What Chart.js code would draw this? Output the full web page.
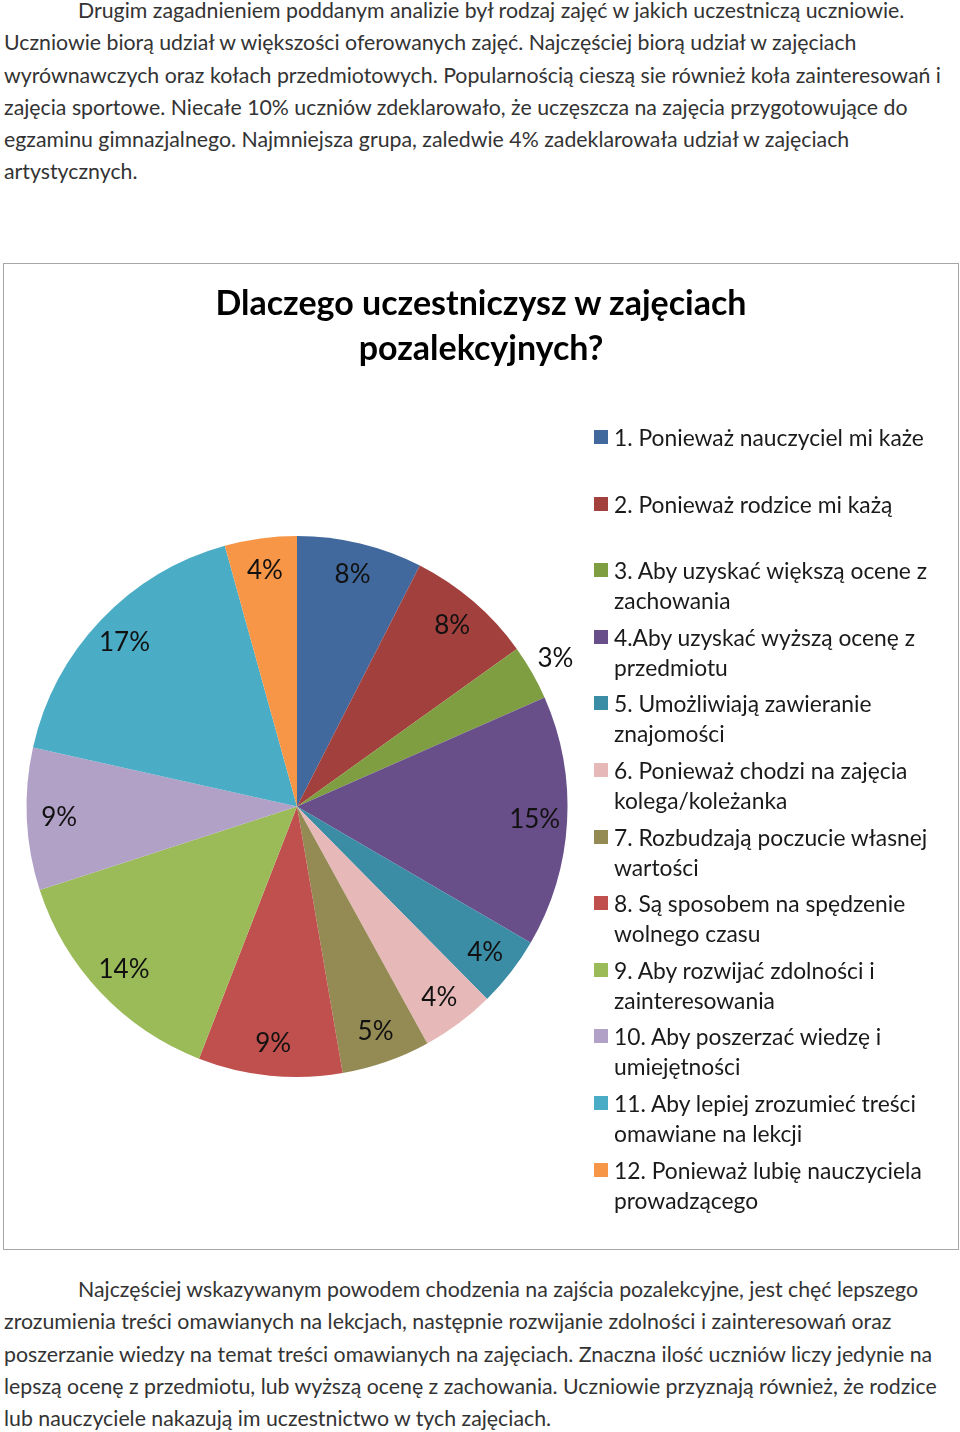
<!DOCTYPE html>
<html lang="pl">
<head>
<meta charset="utf-8">
<script src="https://cdn.jsdelivr.net/npm/chart.js@4.4.1/dist/chart.umd.min.js"></script>
<style>
  body { margin: 0; background: #fff; width: 960px; height: 1432px; position: relative; font-family: Lato, "Open Sans", sans-serif; }
  .para { position: absolute; left: 4px; font-size: 21.3px; line-height: 32.3px; color: #333; white-space: nowrap; }
  .para .ind { padding-left: 74px; }
  #box { position: absolute; left: 3px; top: 263px; width: 956px; height: 987px; box-sizing: border-box; border: 1px solid #a6a6a6; }
  #wykres { position: absolute; left: 0; top: 0; }
  #tytul { position: absolute; left: 0; top: 15px; width: 954px; text-align: center; font-size: 34px; font-weight: bold; line-height: 45px; color: #000; }
  #legenda { position: absolute; left: 0; top: 0; }
  .poz { position: absolute; left: 610px; font-size: 22.8px; line-height: 30px; color: #1a1a1a; white-space: nowrap; }
  .kw { position: absolute; left: -20px; top: 8px; width: 14px; height: 14px; }
</style>
</head>
<body>

<div class="para" style="top:-6px">
  <div class="ind">Drugim zagadnieniem poddanym analizie był rodzaj zajęć w jakich uczestniczą uczniowie.</div>
  <div>Uczniowie biorą udział w większości oferowanych zajęć. Najczęściej biorą udział w zajęciach</div>
  <div>wyrównawczych oraz kołach przedmiotowych. Popularnością cieszą sie również koła zainteresowań i</div>
  <div>zajęcia sportowe. Niecałe 10% uczniów zdeklarowało, że uczęszcza na zajęcia przygotowujące do</div>
  <div>egzaminu gimnazjalnego. Najmniejsza grupa, zaledwie 4% zadeklarowała udział w zajęciach</div>
  <div>artystycznych.</div>
</div>

<div id="box">
  <canvas id="wykres" width="954" height="985"></canvas>
  <div id="tytul"></div>
  <div id="legenda"></div>
</div>

<div class="para" style="top:1273px">
  <div class="ind">Najczęściej wskazywanym powodem chodzenia na zajścia pozalekcyjne, jest chęć lepszego</div>
  <div>zrozumienia treści omawianych na lekcjach, następnie rozwijanie zdolności i zainteresowań oraz</div>
  <div>poszerzanie wiedzy na temat treści omawianych na zajęciach. Znaczna ilość uczniów liczy jedynie na</div>
  <div>lepszą ocenę z przedmiotu, lub wyższą ocenę z zachowania. Uczniowie przyznają również, że rodzice</div>
  <div>lub nauczyciele nakazują im uczestnictwo w tych zajęciach.</div>
</div>

<script>
const TYTUL = ["Dlaczego uczestniczysz w zajęciach", "pozalekcyjnych?"];

const powody = [
  ["1. Ponieważ nauczyciel mi każe"],
  ["2. Ponieważ rodzice mi każą"],
  ["3. Aby uzyskać większą ocene z", "zachowania"],
  ["4.Aby uzyskać wyższą ocenę z", "przedmiotu"],
  ["5. Umożliwiają zawieranie", "znajomości"],
  ["6. Ponieważ chodzi na zajęcia", "kolega/koleżanka"],
  ["7. Rozbudzają poczucie własnej", "wartości"],
  ["8. Są sposobem na spędzenie", "wolnego czasu"],
  ["9. Aby rozwijać zdolności i", "zainteresowania"],
  ["10. Aby poszerzać wiedzę i", "umiejętności"],
  ["11. Aby lepiej zrozumieć treści", "omawiane na lekcji"],
  ["12. Ponieważ lubię nauczyciela", "prowadzącego"],
];

// udział procentowy
const procenty = [7.5, 7.6, 3.3, 15.0, 4.2, 4.4, 5.3, 8.6, 14.1, 8.5, 17.2, 4.3];

const kolory = [
  "#41699d", "#a2403d", "#7f9e42", "#694f89", "#3b8ca5", "#e6b9b8",
  "#948a54", "#c0504d", "#9bbb59", "#b2a1c7", "#4bacc6", "#f79646",
];

// etykiety poza wycinkiem (za mały wycinek)
const naZewnatrz = [2];

const etykiety = {
  id: "etykiety",
  afterDatasetsDraw(chart) {
    const ctx = chart.ctx;
    const meta = chart.getDatasetMeta(0);
    ctx.save();
    ctx.font = "26px Lato, 'Open Sans', sans-serif";
    ctx.fillStyle = "#111";
    ctx.textAlign = "center";
    ctx.textBaseline = "middle";
    meta.data.forEach((arc, i) => {
      const p = arc.getProps(["x", "y", "startAngle", "endAngle", "outerRadius"], true);
      const kat = (p.startAngle + p.endAngle) / 2;
      const r = p.outerRadius * (naZewnatrz.includes(i) ? 1.1 : 0.88);
      const tekst = Math.round(procenty[i]) + "%";
      ctx.fillText(tekst, p.x + Math.cos(kat) * r, p.y + Math.sin(kat) * r);
    });
    ctx.restore();
  },
};

new Chart(document.getElementById("wykres"), {
  type: "pie",
  data: {
    labels: powody,
    datasets: [{ data: procenty, backgroundColor: kolory, borderWidth: 0 }],
  },
  options: {
    responsive: false,
    animation: false,
    devicePixelRatio: 1,
    layout: { padding: { left: 22.5, right: 390.5, top: 272, bottom: 172 } },
    plugins: {
      legend: { display: false },
      tooltip: { enabled: false },
      title: { display: false },
    },
  },
  plugins: [etykiety],
});

document.getElementById("tytul").innerHTML = TYTUL.join("<br>");

// legenda po prawej stronie
const legenda = document.getElementById("legenda");
powody.forEach((linie, i) => {
  const el = document.createElement("div");
  el.className = "poz";
  el.style.top = (437 - 264 - 15 + i * 66.6) + "px";
  el.innerHTML = linie.join("<br>");
  const kw = document.createElement("span");
  kw.className = "kw";
  kw.style.background = kolory[i];
  el.appendChild(kw);
  legenda.appendChild(el);
});
</script>
</body>
</html>
